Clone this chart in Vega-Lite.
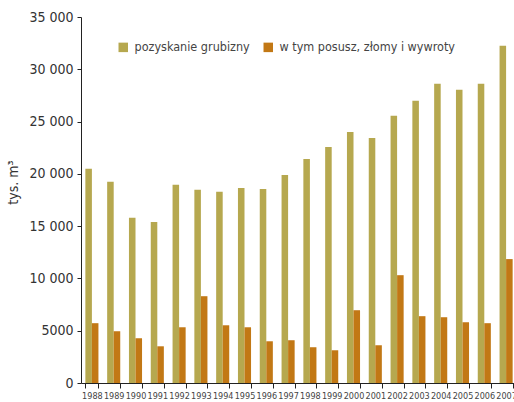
{
  "$schema": "https://vega.github.io/schema/vega-lite/v6.json",
  "autosize": "none",
  "width": 436,
  "height": 366,
  "padding": {"left": 81, "top": 17, "right": 0, "bottom": 19},
  "background": "white",
  "config": {"view": {"stroke": null}, "font": "DejaVu Sans Condensed, Roboto"},
  "data": {"values": [
    {"rok": "1988", "seria": "pozyskanie grubizny", "v": 20500},
    {"rok": "1989", "seria": "pozyskanie grubizny", "v": 19250},
    {"rok": "1990", "seria": "pozyskanie grubizny", "v": 15800},
    {"rok": "1991", "seria": "pozyskanie grubizny", "v": 15400},
    {"rok": "1992", "seria": "pozyskanie grubizny", "v": 18950},
    {"rok": "1993", "seria": "pozyskanie grubizny", "v": 18480},
    {"rok": "1994", "seria": "pozyskanie grubizny", "v": 18280},
    {"rok": "1995", "seria": "pozyskanie grubizny", "v": 18650},
    {"rok": "1996", "seria": "pozyskanie grubizny", "v": 18550},
    {"rok": "1997", "seria": "pozyskanie grubizny", "v": 19900},
    {"rok": "1998", "seria": "pozyskanie grubizny", "v": 21430},
    {"rok": "1999", "seria": "pozyskanie grubizny", "v": 22580},
    {"rok": "2000", "seria": "pozyskanie grubizny", "v": 24010},
    {"rok": "2001", "seria": "pozyskanie grubizny", "v": 23440},
    {"rok": "2002", "seria": "pozyskanie grubizny", "v": 25550},
    {"rok": "2003", "seria": "pozyskanie grubizny", "v": 26980},
    {"rok": "2004", "seria": "pozyskanie grubizny", "v": 28610},
    {"rok": "2005", "seria": "pozyskanie grubizny", "v": 28040},
    {"rok": "2006", "seria": "pozyskanie grubizny", "v": 28610},
    {"rok": "2007", "seria": "pozyskanie grubizny", "v": 32250},
    {"rok": "1988", "seria": "w tym posusz, złomy i wywroty", "v": 5720},
    {"rok": "1989", "seria": "w tym posusz, złomy i wywroty", "v": 4950},
    {"rok": "1990", "seria": "w tym posusz, złomy i wywroty", "v": 4280},
    {"rok": "1991", "seria": "w tym posusz, złomy i wywroty", "v": 3510},
    {"rok": "1992", "seria": "w tym posusz, złomy i wywroty", "v": 5330},
    {"rok": "1993", "seria": "w tym posusz, złomy i wywroty", "v": 8300},
    {"rok": "1994", "seria": "w tym posusz, złomy i wywroty", "v": 5520},
    {"rok": "1995", "seria": "w tym posusz, złomy i wywroty", "v": 5330},
    {"rok": "1996", "seria": "w tym posusz, złomy i wywroty", "v": 3990},
    {"rok": "1997", "seria": "w tym posusz, złomy i wywroty", "v": 4090},
    {"rok": "1998", "seria": "w tym posusz, złomy i wywroty", "v": 3420},
    {"rok": "1999", "seria": "w tym posusz, złomy i wywroty", "v": 3130},
    {"rok": "2000", "seria": "w tym posusz, złomy i wywroty", "v": 6960},
    {"rok": "2001", "seria": "w tym posusz, złomy i wywroty", "v": 3610},
    {"rok": "2002", "seria": "w tym posusz, złomy i wywroty", "v": 10310},
    {"rok": "2003", "seria": "w tym posusz, złomy i wywroty", "v": 6390},
    {"rok": "2004", "seria": "w tym posusz, złomy i wywroty", "v": 6290},
    {"rok": "2005", "seria": "w tym posusz, złomy i wywroty", "v": 5810},
    {"rok": "2006", "seria": "w tym posusz, złomy i wywroty", "v": 5720},
    {"rok": "2007", "seria": "w tym posusz, złomy i wywroty", "v": 11850}
  ]},
  "mark": {"type": "bar"},
  "encoding": {
    "x": {
      "field": "rok", "type": "nominal",
      "scale": {"paddingInner": 0.4, "paddingOuter": 0.2},
      "axis": {
        "title": null, "labelAngle": 0, "tickBand": "extent",
        "domainColor": "#222", "tickColor": "#222", "tickSize": 5,
        "labelFont": "DejaVu Sans Condensed, Roboto", "labelFontSize": 9, "labelColor": "#444",
        "labelPadding": 3, "labelOverlap": false
      }
    },
    "xOffset": {"field": "seria", "type": "nominal"},
    "y": {
      "field": "v", "type": "quantitative",
      "scale": {"domain": [0, 35000], "nice": false},
      "axis": {
        "title": "tys. m³", "grid": false,
        "values": [0, 5000, 10000, 15000, 20000, 25000, 30000, 35000],
        "labelExpr": "datum.value >= 10000 ? replace(format(datum.value, ','), ',', ' ') : format(datum.value, 'd')",
        "labelFont": "DejaVu Sans Condensed, Roboto", "labelFontSize": 14, "labelColor": "#333",
        "domainColor": "#222", "tickColor": "#222", "tickSize": 4, "labelPadding": 4,
        "titleFont": "DejaVu Sans Condensed, Roboto", "titleFontSize": 14, "titleFontWeight": "normal",
        "titleColor": "#333", "titleX": -61, "titleY": 165
      }
    },
    "color": {
      "field": "seria", "type": "nominal",
      "scale": {"range": ["#B6A84F", "#C27815"]},
      "legend": {
        "title": null, "orient": "none", "direction": "horizontal",
        "legendX": 36, "legendY": 24,
        "symbolType": "square", "symbolSize": 90, "symbolStrokeWidth": 0,
        "labelFont": "DejaVu Sans Condensed, Roboto", "labelFontSize": 12.5, "labelColor": "#444",
        "labelOffset": 5, "columnPadding": 12, "labelLimit": 300
      }
    }
  }
}
